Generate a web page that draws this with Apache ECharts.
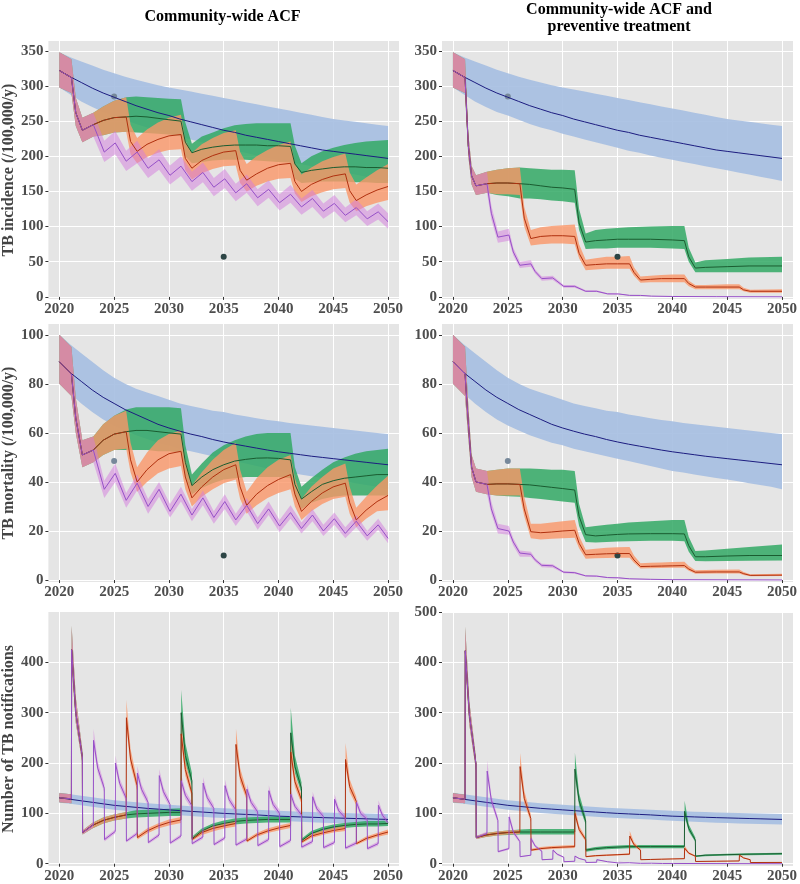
<!DOCTYPE html>
<html>
<head>
<meta charset="utf-8">
<script src="https://cdn.jsdelivr.net/npm/echarts@6/dist/echarts.min.js"></script>
<style>html,body{margin:0;padding:0;background:#fff;}#chart{width:800px;height:884px;}</style>
</head>
<body>
<div id="chart"></div>
<script>
// ---------------- DATA ----------------
// rows: [year, lower, median, upper]
const yearTicks = [2020, 2025, 2030, 2035, 2040, 2045, 2050];
const incTicks = [0, 50, 100, 150, 200, 250, 300, 350];
const mortTicks = [0, 20, 40, 60, 80, 100];
const notifTicksL = [0, 100, 200, 300, 400];
const notifTicksR = [0, 100, 200, 300, 400, 500];
const colTitles = ['Community-wide ACF', 'Community-wide ACF and\npreventive treatment'];
const rowNames = ['TB incidence (/100,000/y)', 'TB mortality (/100,000/y)', 'Number of TB notifications'];
const incTargets = [[2025, 285], [2035, 57]];
const mortTargets = [[2025, 48.5], [2035, 10]];

const incBlue = [
[2020,298,322,348],[2021,288,313,341],[2022,278,305,335],[2023,270,297,329],[2024,263,290,323],
[2025,258,284,318],[2026,252,278,313],[2027,246,272,309],[2028,241,267,305],[2029,237,262,301],
[2030,232,258,298],[2031,228,253,295],[2032,224,249,292],[2033,220,245,289],[2034,216,241,286],
[2035,212,237,283],[2036,208,234,280],[2037,205,230,277],[2038,201,227,274],[2039,198,224,271],
[2040,195,221,268],[2041,192,218,265],[2042,189,215,262],[2043,186,212,259],[2044,183,209,256],
[2045,180,207,253],[2046,177,205,251],[2047,174,203,249],[2048,171,201,247],[2049,168,199,245],
[2050,165,197,243]];

const incL_purple = [
[2020,298,322,348],[2021.1,290,312,338],[2021.5,243,262,283],[2022.1,220,237,255],[2023.1,228,245,262],
[2024.1,192,206,222],[2025.1,203,219,236],[2026.1,179,193,208],[2027.1,190,206,222],[2028.1,169,183,197],
[2029.1,181,195,210],[2030.1,160,173,187],[2031.1,172,186,200],[2032.1,151,164,178],[2033.1,163,177,191],
[2034.1,143,156,169],[2035.1,155,168,182],[2036.1,136,148,161],[2037.1,148,161,174],[2038.1,129,141,153],
[2039.1,141,153,166],[2040.1,123,134,146],[2041.1,134,146,159],[2042.1,117,128,140],[2043.1,128,140,152],
[2044.1,111,122,133],[2045.1,122,133,145],[2046.1,106,116,127],[2047.1,116,127,139],[2048.1,101,111,122],
[2049.1,110,121,133],[2050,97,107,119]];

const incL_orange = [
[2020,298,322,348],[2021.1,290,312,338],[2021.5,243,262,283],[2022.1,220,237,255],[2023.1,228,245,262],
[2024,230,251,271],[2025,234,255,279],[2026.1,235,256,284],[2026.5,203,221,245],[2027.1,190,207,226],
[2028,199,217,238],[2029,205,224,248],[2030,209,229,255],[2031.1,210,231,259],[2031.5,180,197,222],
[2032.1,167,183,205],[2033,176,194,217],[2034,182,201,226],[2035,186,206,233],[2036.1,187,208,237],
[2036.5,162,180,206],[2037.1,150,166,189],[2038,158,175,200],[2039,164,183,209],[2040,168,188,216],
[2041.1,169,190,221],[2041.5,147,164,190],[2042.1,135,150,174],[2043,143,160,184],[2044,149,167,193],
[2045,153,172,199],[2046.1,155,175,204],[2046.5,134,151,177],[2047.1,122,137,160],[2048,129,145,170],
[2049,134,152,180],[2050,138,157,189]];

const incL_green = [
[2020,298,322,348],[2021.1,290,312,338],[2021.5,243,262,283],[2022.1,220,237,255],[2023.1,228,245,262],
[2024,230,251,271],[2025,234,255,279],[2026.1,235,256,284],[2027,234,257,285],[2028,233,256,284],
[2029,232,254,283],[2030,231,252,282],[2031.1,229,250,281],[2031.5,200,220,248],[2032.1,190,205,218],
[2033,192,210,228],[2034,194,213,234],[2035,195,215,240],[2036,195,216,244],[2037,195,216,246],
[2038,194,216,247],[2039,193,215,247],[2040,192,215,247],[2041.1,191,214,247],[2041.5,168,189,215],
[2042.1,162,177,190],[2043,163,180,200],[2044,164,182,207],[2045,164,184,212],[2046,164,185,216],
[2047,163,185,219],[2048,163,184,221],[2049,162,184,222],[2050,162,183,223]];

const incR_purple = [
[2020,298,322,348],[2021.1,290,312,338],[2021.4,200,215,232],[2021.7,160,172,186],[2022.1,145,158,173],
[2023.1,148,161,178],[2023.5,110,119,130],[2024.1,77,85,93],[2025.1,80,88,97],[2025.5,59,64,70],
[2026.1,41,45,50],[2027.1,43,47,52],[2027.5,33,36,39],[2028.1,23,26,29],[2029.1,24,27,30],
[2030.1,13,15,17],[2031.1,13,15,17],[2032.1,7,8,9.5],[2033.1,7,8,9.5],[2034.1,3.5,4.3,5.2],
[2035.1,3.5,4.2,5],[2036.1,1.8,2.2,2.7],[2037.1,1.7,2.1,2.6],[2038.1,0.9,1.1,1.4],[2040,0.5,0.6,0.8],
[2044,0.2,0.3,0.4],[2050,0.1,0.1,0.2]];

const incR_orange = [
[2020,298,322,348],[2021.1,290,312,338],[2021.4,200,215,232],[2021.7,160,172,186],[2022.1,145,158,173],
[2023.1,148,161,178],[2024,146,162,181],[2025,146,162,183],[2026.1,145,161,184],[2026.5,100,112,128],
[2027.1,73,83,95],[2028,75,86,99],[2029,76,87,101],[2030,76,87,102],[2031.1,75,86,103],
[2031.5,55,62,75],[2032.1,38,45,53],[2033,39,46,55],[2034,40,47,57],[2035,40,47,57],
[2036.1,40,47,58],[2036.5,30,35,42],[2037.1,20,24,29],[2038,21,25,30],[2039,21,26,31],
[2040,21,26,32],[2041.1,21,26,32],[2041.5,15,19,23],[2042.1,11,14,17],[2043,11,14,17],
[2045,11,14,18],[2046.1,11,14,18],[2046.5,8,10,13],[2047.1,6,8,10],[2050,6,8,11]];

const incR_green = [
[2020,298,322,348],[2021.1,290,312,338],[2021.4,200,215,232],[2021.7,160,172,186],[2022.1,145,158,173],
[2023.1,148,161,178],[2024,145,162,181],[2025,143,162,183],[2026.1,140,161,184],[2027,140,160,183],
[2028,139,158,182],[2029,137,156,181],[2030,136,155,181],[2031.1,134,153,180],[2031.5,95,105,125],
[2032.1,68,78,90],[2033,69,80,95],[2034,69,81,97],[2035,70,82,98],[2036,70,82,99],
[2038,70,82,100],[2040,69,81,101],[2041.1,68,80,101],[2041.5,50,57,70],[2042.1,35,41,49],
[2043,35,42,52],[2045,35,43,54],[2047,35,44,56],[2050,35,44,57]];

const mortBlue = [
[2020,80,89,100],[2021,76,84.5,96],[2022,72,81,92.5],[2023,68.5,77.5,89],[2024,65.5,74.5,85.5],
[2025,63,72,82.5],[2026,61,69.5,80],[2027,59,67.5,78],[2028,57.5,65.5,76.5],[2029,56,63.5,75],
[2030,55,62,73.5],[2031,53.5,60.7,72],[2032,52.5,59.5,71],[2033,51.5,58.5,70],[2034,50.5,57.3,69],
[2035,49.5,56.3,68.5],[2036,48.5,55.4,67.5],[2037,47.5,54.6,66.8],[2038,46.5,53.8,66],[2039,45.5,53,65.3],
[2040,44.5,52.3,64.7],[2041,43.8,51.7,64],[2042,43,51.1,63.5],[2043,42.3,50.5,63],[2044,41.6,50,62.5],
[2045,41,49.5,62],[2046,40.3,49,61.5],[2047,39.5,48.5,61],[2048,38.8,48,60.5],[2049,38,47.5,60],
[2050,37,47,59.5]];

const mortL_purple = [
[2020,80,89,100],[2021.1,75,84,95],[2021.5,60,66,74],[2022.1,46,51,57],[2023.1,48,53,58.5],
[2024.1,33.5,37,40.5],[2025.1,40,43.5,47.5],[2026.1,29.5,32.5,35.5],[2027.1,36.5,39.5,43],[2028.1,27,30,33],
[2029.1,34,37,40],[2030.1,25.5,28,31],[2031.1,32,35,38],[2032.1,24,26.5,29],[2033.1,30.5,33.5,36.5],
[2034.1,23,25.5,28],[2035.1,29,32,35],[2036.1,22,24.5,27],[2037.1,28,30.5,33.5],[2038.1,20.5,23,25.5],
[2039.1,26.5,29,32],[2040.1,19.5,22,24.5],[2041.1,25,27.5,30.5],[2042.1,19,21,23.5],[2043.1,24,26.5,29],
[2044.1,18,20,22.5],[2045.1,22.5,25,27.5],[2046.1,17,19,21.5],[2047.1,21.5,24,26.5],[2048.1,16,18,20],
[2049.1,20.5,22.5,25],[2050,15,17,19.5]];

const mortL_orange = [
[2020,80,89,100],[2021.1,75,84,95],[2021.5,60,66,74],[2022.1,46,51,57],[2023.1,48,53,58.5],
[2024,51,57,63.5],[2025,53,59.5,67],[2026.1,53.5,60.5,69],[2026.5,44,49,56],[2027.1,36,40,46],
[2028,40,45,52],[2029,43.5,49,57],[2030,45.5,51.5,59.5],[2031.1,46.5,52.5,61],[2031.5,37,42,49],
[2032.1,30,33.5,38.5],[2033,34,38,44],[2034,37,42,49],[2035,39.5,45,53],[2036.1,41,47,56],
[2036.5,33,38,45],[2037.1,27,30.5,36],[2038,30.5,35,41.5],[2039,33.5,38.5,46],[2040,35.5,41,49],
[2041.1,37,43,51],[2041.5,30,35,41.5],[2042.1,24.5,28,33],[2043,28,32,38],[2044,31,35.5,42],
[2045,33,38,45.5],[2046.1,34,39.5,47.5],[2046.5,27,31.5,38],[2047.1,21.5,24.5,29.5],[2048,25,28.5,34],
[2049,28,32,38.5],[2050,28.5,34.5,42.5]];

const mortL_green = [
[2020,80,89,100],[2021.1,75,84,95],[2021.5,60,66,74],[2022.1,46,51,57],[2023.1,48,53,58.5],
[2024,51,57,63.5],[2025,53,59.5,67],[2026.1,53,60.5,69.5],[2027,53,61,70.5],[2028,53,61,70.5],
[2029,52.5,60.5,70.5],[2030,52.5,60,70.5],[2031.1,52,59.5,70],[2031.5,42,48,55],[2032.1,35,38.5,43],
[2033,37.5,42,47.5],[2034,39.5,45,52],[2035,41,47,55],[2036,41.5,48.5,57],[2037,42,49.2,58.5],
[2038,42,49.7,59.5],[2039,42,49.8,60],[2040,42,49.6,60],[2041.1,41.5,49,60],[2041.5,34,39,46],
[2042.1,29,33,38],[2043,31.5,36,41.5],[2044,33,39,45],[2045,34,40.5,48],[2046,34.5,41.5,50],
[2047,34.5,42,51.5],[2048,34.5,42.5,52.5],[2049,34.5,43,53],[2050,34.5,43,53.5]];

const mortR_purple = [
[2020,80,89,100],[2021.1,75,84,95],[2021.4,58,64,71],[2021.7,42,46,51],[2022.1,36,40,45.5],
[2023.1,35,39,44.5],[2023.5,27,29,32],[2024.1,19,21,23],[2025.1,18.5,20,22],[2025.5,14,15.5,17],
[2026.1,9.5,11,12],[2027.1,9.5,10.5,11.5],[2027.5,7.5,8.2,9],[2028.1,5.2,6,6.6],[2029.1,5,5.8,6.4],
[2030.1,2.8,3.2,3.6],[2031.1,2.6,3,3.4],[2032.1,1.4,1.7,2],[2033.1,1.3,1.6,1.9],[2034.1,0.8,1,1.2],
[2035.1,0.75,0.9,1.1],[2036.1,0.4,0.5,0.6],[2038,0.25,0.3,0.4],[2040,0.12,0.15,0.2],[2050,0.02,0.03,0.05]];

const mortR_orange = [
[2020,80,89,100],[2021.1,75,84,95],[2021.4,58,64,71],[2021.7,42,46,51],[2022.1,36,40,45.5],
[2023.1,35,39,44.5],[2024,34.5,39.2,45],[2025,34.5,39.2,45.5],[2026.1,34.5,39,45.5],[2026.5,26,29,34],
[2027.1,17,19.7,23],[2028,16.5,19.3,23],[2029,16.8,19.6,23.5],[2030,17,20,24],[2031.1,17.2,20.3,24.5],
[2031.5,13,15,18],[2032.1,8.7,10.3,12.3],[2033,8.9,10.5,12.8],[2034,9,10.7,13.2],[2035,9.1,10.8,13.4],
[2036.1,9.1,10.8,13.5],[2036.5,7,8.2,10],[2037.1,4.7,5.5,6.8],[2038,4.8,5.6,7],[2039,4.9,5.7,7.2],
[2040,5,5.8,7.4],[2041.1,5,5.9,7.5],[2041.5,3.8,4.5,5.7],[2042.1,2.6,3.2,4],[2044,2.7,3.3,4.2],
[2046.1,2.7,3.3,4.3],[2046.5,2.1,2.6,3.3],[2047.1,1.5,1.9,2.4],[2050,1.6,2,2.6]];

const mortR_green = [
[2020,80,89,100],[2021.1,75,84,95],[2021.4,58,64,71],[2021.7,42,46,51],[2022.1,36,40,45.5],
[2023.1,35,39,44.5],[2024,34.5,39.2,45],[2025,34.2,39.2,45.5],[2026.1,34,39,45.5],[2027,33.5,38.8,45.5],
[2028,33,38.3,45.3],[2029,32.5,37.8,45],[2030,32,37.3,45],[2031.1,31.5,36.7,44.5],[2031.5,22,26,31],
[2032.1,15.5,18.5,21.5],[2033,15.3,18,22],[2034,15.5,18.3,22.5],[2035,15.7,18.6,23],[2036,15.8,18.8,23.5],
[2038,16,18.9,24],[2040,16,18.9,24.5],[2041.1,15.8,18.8,24.5],[2041.5,11.5,14,17.5],[2042.1,7.8,9.5,11.8],
[2043,7.7,9.5,12],[2045,7.8,9.8,12.8],[2047,7.9,10,13.5],[2050,8,10,14.5]];

const notifBlue = [
[2020,121,131,141],[2021,119,128,138],[2022,116,125,135],[2023,113,122,132],[2024,110,119,129],
[2025,107,116,126],[2026,105,114,124],[2027,103,112,122],[2028,101,110,120],[2029,99.5,108.5,118.5],
[2030,98,107,117],[2031,96.5,105.5,115.5],[2032,95,104,114],[2033,93.5,102.7,112.5],[2034,92,101.3,111],
[2035,91,100,110],[2036,90,99,109],[2037,89,98,108],[2038,88,97,107],[2039,86.5,95.7,106],
[2040,85.5,94.5,105],[2041,84.5,93.8,104],[2042,83.5,93,103.5],[2043,82.5,92.3,103],[2044,81.5,91.6,102],
[2045,81,91,101.5],[2046,80,90.4,101],[2047,79.5,89.8,100.5],[2048,79,89.2,100],[2049,78.5,88.6,99.5],
[2050,78,88,99]];

const notifL_purple = [
[2020,122,131,140],[2021.1,120,129,138],[2021.12,395,425,472],[2021.5,280,300,330],[2022.1,200,212,225],
[2022.12,58,62,66],[2023.1,72,77,82],[2023.12,230,245,268],[2023.5,180,190,203],[2024.1,142,150,159],
[2024.12,44,48,52],[2025.1,60,64,68],[2025.12,188,200,215],[2025.5,152,160,170],[2026.1,123,130,138],
[2026.12,42,45,48],[2027.1,56,60,64],[2027.12,170,180,194],[2027.5,140,148,158],[2028.1,115,122,130],
[2028.12,39,42,45],[2029.1,53,57,61],[2029.12,165,175,188],[2029.5,135,143,152],[2030.1,111,118,125],
[2030.12,38,41,44],[2031.1,51,55,59],[2031.12,155,165,177],[2031.5,128,136,145],[2032.1,108,115,122],
[2032.12,37,40,43],[2033.1,49,53,57],[2033.12,150,160,172],[2033.5,124,131,140],[2034.1,103,110,117],
[2034.12,35,38,41],[2035.1,47,51,55],[2035.12,145,155,167],[2035.5,120,127,135],[2036.1,100,107,114],
[2036.12,34,37,40],[2037.1,45,49,53],[2037.12,138,148,159],[2037.5,115,122,130],[2038.1,97,103,110],
[2038.12,33,36,39],[2039.1,44,48,52],[2039.12,135,145,156],[2039.5,111,118,126],[2040.1,94,100,107],
[2040.12,31,34,37],[2041.1,42,46,50],[2041.12,129,138,149],[2041.5,107,114,121],[2042.1,91,97,103],
[2042.12,30,33,36],[2043.1,40,44,48],[2043.12,124,133,143],[2043.5,103,109,116],[2044.1,88,94,100],
[2044.12,29,32,35],[2045.1,38,42,46],[2045.12,119,128,138],[2045.5,99,105,112],[2046.1,85,91,97],
[2046.12,28,31,34],[2047.1,37,41,45],[2047.12,114,122,132],[2047.5,95,100,107],[2048.1,82,88,94],
[2048.12,27,30,33],[2049.1,36,40,44],[2049.12,108,116,126],[2049.5,90,96,103],[2050,77,82,88]];

const notifL_orange = [
[2020,122,131,140],[2021.1,120,129,138],[2021.12,395,425,472],[2021.5,280,300,330],[2022.1,200,212,225],
[2022.12,58,62,66],[2023,70,76,81],[2024,80,86,92],[2025,86,92,98],[2026.1,90,97,103],
[2026.12,270,290,325],[2026.5,195,208,228],[2027.1,145,155,166],[2027.12,48,52,56],[2028,60,65,70],
[2029,70,75,80],[2030,76,82,88],[2031.1,81,87,93],[2031.12,240,258,285],[2031.5,175,187,203],
[2032.1,132,140,150],[2032.12,45,48,52],[2033,57,62,66],[2034,64,70,75],[2035,70,75,80],
[2036.1,74,80,86],[2036.12,220,237,268],[2036.5,162,174,190],[2037.1,126,135,145],[2037.12,42,45,49],
[2038,53,57,61],[2039,61,65,70],[2040,66,71,76],[2041.1,71,76,81],[2041.12,206,222,248],
[2041.5,152,163,177],[2042.1,119,127,136],[2042.12,40,43,46],[2043,51,55,59],[2044,57,61,66],
[2045,62,66,71],[2046.1,65,70,75],[2046.12,192,207,240],[2046.5,142,153,168],[2047.1,116,124,133],
[2047.12,37,40,43],[2048,46,50,54],[2049,53,57,61],[2050,58,63,68]];

const notifL_green = [
[2020,122,131,140],[2021.1,120,129,138],[2021.12,395,425,472],[2021.5,280,300,330],[2022.1,200,212,225],
[2022.12,58,62,66],[2023,70,76,81],[2024,80,86,92],[2025,86,92,98],[2026.1,90,97,103],
[2027,92,99,106],[2028,93,100,107],[2029,94,101,108],[2030,95,102,109],[2031.1,95,102,110],
[2031.12,280,300,345],[2031.5,200,215,240],[2032.1,155,165,180],[2032.12,47,50,54],[2033,60,65,70],
[2034,69,75,80],[2035,74,80,86],[2036,78,84,90],[2037,80,86,92],[2038,81,87,93],
[2039,82,88,94],[2040,82,88,94],[2041.1,82,88,94],[2041.12,240,260,310],[2041.5,180,193,215],
[2042.1,140,150,162],[2042.12,43,46,50],[2043,56,60,65],[2044,63,68,73],[2045,68,73,78],
[2046,71,76,81],[2047,73,78,83],[2048,74,79,85],[2049,74,79,85],[2050,75,80,86]];

const notifR_purple = [
[2020,122,131,140],[2021.1,120,128,137],[2021.12,395,423,470],[2021.5,275,295,320],[2022.1,185,198,210],
[2022.12,49,52,55],[2023.1,56,60,64],[2023.12,172,184,205],[2023.5,118,126,136],[2024.1,80,86,92],
[2024.12,22,24,26],[2025.1,28,30,32],[2025.12,86,93,102],[2025.5,58,63,69],[2026.1,41,44,47],
[2026.12,13,14,15],[2027.1,16,17,18],[2027.12,46,50,55],[2027.5,32,35,38],[2028.1,23,25,27],
[2028.12,7,8,9],[2029.1,8.5,9,10],[2029.12,25,27,30],[2029.5,17,19,21],[2030.1,12,13,14],
[2030.12,3.6,4,4.4],[2031.1,4.5,5,5.5],[2031.12,14,15,17],[2031.5,9.5,10.5,11.5],[2032.1,6.5,7,7.7],
[2032.12,2.2,2.5,2.8],[2033.1,2.7,3,3.3],[2033.12,7.3,8,8.8],[2034.1,3.6,4,4.4],[2034.12,1.2,1.3,1.5],
[2035.1,1.4,1.5,1.7],[2035.12,3.6,4,4.5],[2036.1,1.8,2,2.2],[2036.12,0.6,0.7,0.8],[2037.1,0.7,0.8,0.9],
[2037.12,1.8,2,2.2],[2038.1,0.9,1,1.1],[2039.1,0.4,0.5,0.6],[2039.12,0.9,1,1.1],[2040.1,0.4,0.5,0.6],
[2050,0.05,0.05,0.1]];

const notifR_orange = [
[2020,122,131,140],[2021.1,120,128,137],[2021.12,395,423,470],[2021.5,275,295,320],[2022.1,185,198,210],
[2022.12,49,52,55],[2023,53,57,61],[2024,56,60,64],[2025,58,62,66],[2026.1,59,63,67],
[2026.12,178,193,220],[2026.5,120,130,145],[2027.1,83,90,98],[2027.12,25,27,30],[2028,28,30,33],
[2029,29.5,32,35],[2030,30.5,33,36],[2031.1,31.5,34,37],[2031.12,92,100,112],[2031.5,63,68,75],
[2032.1,44,48,52],[2032.12,13,14,15.5],[2033,14.5,16,17.5],[2034,15.5,17,18.5],[2035,16.5,18,19.5],
[2036.1,17.5,19,21],[2036.12,51,55,65],[2036.5,35,38,43],[2037.1,25,27,30],[2037.12,7.3,8,8.8],
[2038,7.8,8.5,9.3],[2039,8.2,9,9.8],[2040,8.7,9.5,10.4],[2041.1,9.2,10,11],[2041.12,28,31,36],
[2041.5,19,21,23.5],[2042.1,14,15,16.5],[2042.12,4.1,4.5,5],[2044,4.5,5,5.5],[2046.1,5,5.5,6],
[2046.12,15.5,17,20],[2046.5,10.5,11.5,13],[2047.1,7.3,8,8.8],[2047.12,2.2,2.4,2.7],[2050,2.3,2.6,2.9]];

const notifR_green = [
[2020,122,131,140],[2021.1,120,128,137],[2021.12,395,423,470],[2021.5,275,295,320],[2022.1,185,198,210],
[2022.12,49,52,55],[2023,53,57,61],[2024,56,60,64],[2025,57,62,66],[2026.1,58,63,68],
[2027,58,63,69],[2028,58,63,69],[2029,58,63,69],[2030,58,63,69],[2031.1,58,63,69],
[2031.12,172,188,220],[2031.5,115,125,140],[2032.1,78,85,93],[2032.12,24,27,30],[2033,27,30,33],
[2034,29,32,35],[2035,30,33,36],[2036,31,34,37],[2038,31,34,37],[2040,31,34,37],
[2041.1,31,34,37],[2041.12,95,104,125],[2041.5,64,70,78],[2042.1,43,47,52],[2042.12,13.5,15,16.5],
[2043,15,17,18.5],[2045,16.5,18,20],[2047,17,19,21],[2050,18,20,22]];

// ---------------- LAYOUT / STYLE ----------------
const FONT = '"Liberation Serif","Times New Roman",serif';
const cols = [{left: 46, width: 353}, {left: 442, width: 354}];
const rows = [
  {top: 41, height: 258, min: -3, max: 364},
  {top: 324, height: 258, min: -0.8, max: 104.4},
  {top: 612, height: 257, min: -4.5, max: 500}
];
const bandColor = {
  blue: 'rgba(165,190,225,0.9)',
  green: 'rgba(50,169,101,0.85)',
  orange: 'rgba(250,150,104,0.8)',
  purple: 'rgba(211,123,221,0.5)'
};
const lineColor = {blue: '#1c1c80', green: '#1a5c30', orange: '#b0300e', purple: '#9650c8'};
const targetColors = ['#76889a', '#2d4545'];

const panels = [
  {r: 0, c: 0, ticks: incTicks, targets: incTargets, s: {blue: incBlue, green: incL_green, orange: incL_orange, purple: incL_purple}},
  {r: 0, c: 1, ticks: incTicks, targets: incTargets, s: {blue: incBlue, green: incR_green, orange: incR_orange, purple: incR_purple}},
  {r: 1, c: 0, ticks: mortTicks, targets: mortTargets, s: {blue: mortBlue, green: mortL_green, orange: mortL_orange, purple: mortL_purple}},
  {r: 1, c: 1, ticks: mortTicks, targets: mortTargets, s: {blue: mortBlue, green: mortR_green, orange: mortR_orange, purple: mortR_purple}},
  {r: 2, c: 0, ticks: notifTicksL, targets: null, s: {blue: notifBlue, green: notifL_green, orange: notifL_orange, purple: notifL_purple}},
  {r: 2, c: 1, ticks: notifTicksR, targets: null, s: {blue: notifBlue, green: notifR_green, orange: notifR_orange, purple: notifR_purple}}
];

const grids = [], xAxes = [], yAxes = [], series = [];
const labelStyle = {fontFamily: FONT, fontWeight: 'bold', fontSize: 15, color: '#4d4d4d'};
const plain = v => String(v);

panels.forEach((p, i) => {
  const col = cols[p.c], row = rows[p.r];
  grids.push({left: col.left, width: col.width, top: row.top, height: row.height,
    show: true, backgroundColor: '#e5e5e5', borderWidth: 0, containLabel: false});
  xAxes.push({type: 'value', gridIndex: i, min: 2019, max: 2051,
    axisLine: {show: false},
    axisTick: {show: true, length: 3, lineStyle: {color: '#333'}, customValues: yearTicks},
    axisLabel: Object.assign({customValues: yearTicks, margin: 3, formatter: plain}, labelStyle),
    splitLine: {show: true, lineStyle: {color: '#ffffff', width: 1}}
  });
  const ya = {type: 'value', gridIndex: i, min: row.min, max: row.max,
    axisLine: {show: false},
    axisTick: {show: true, length: 3, lineStyle: {color: '#333'}, customValues: p.ticks},
    axisLabel: Object.assign({customValues: p.ticks, margin: 5, formatter: plain}, labelStyle),
    splitLine: {show: true, lineStyle: {color: '#ffffff', width: 1}}
  };
  if (p.c === 0) {
    ya.name = rowNames[p.r];
    ya.nameLocation = 'middle';
    ya.nameGap = 28;
    ya.nameRotate = 90;
    ya.nameTextStyle = {fontFamily: FONT, fontWeight: 'bold', fontSize: 16, color: '#444'};
  }
  yAxes.push(ya);

  ['blue', 'green', 'orange', 'purple'].forEach(k => {
    const data = p.s[k];
    series.push({
      type: 'custom', xAxisIndex: i, yAxisIndex: i, silent: true, clip: true,
      encode: {x: 0, y: 2},
      data: data,
      renderItem: function (params, api) {
        if (params.dataIndex !== 0) return null;
        const pts = [];
        for (let j = 0; j < data.length; j++) pts.push(api.coord([data[j][0], data[j][3]]));
        for (let j = data.length - 1; j >= 0; j--) pts.push(api.coord([data[j][0], data[j][1]]));
        return {type: 'polygon', shape: {points: pts}, style: {fill: bandColor[k]}};
      }
    });
    series.push({
      type: 'line', xAxisIndex: i, yAxisIndex: i, silent: true,
      data: data.map(d => [d[0], d[2]]),
      showSymbol: false, symbol: 'none',
      lineStyle: {color: lineColor[k], width: 1}
    });
  });
  if (p.targets) {
    p.targets.forEach((t, j) => {
      series.push({type: 'scatter', xAxisIndex: i, yAxisIndex: i, silent: true,
        data: [t], symbolSize: 6, itemStyle: {color: targetColors[j], opacity: 1}});
    });
  }
});

const chart = echarts.init(document.getElementById('chart'), null, {renderer: 'canvas'});
chart.setOption({
  animation: false,
  backgroundColor: '#ffffff',
  grid: grids,
  xAxis: xAxes,
  yAxis: yAxes,
  series: series,
  graphic: [
    {type: 'text', x: cols[0].left + cols[0].width / 2, y: 17,
      style: {text: colTitles[0], textAlign: 'center', textVerticalAlign: 'middle',
        font: 'bold 16px ' + FONT, fill: '#000'}},
    {type: 'text', x: cols[1].left + cols[1].width / 2, y: 18,
      style: {text: colTitles[1], textAlign: 'center', textVerticalAlign: 'middle',
        font: 'bold 16px ' + FONT, lineHeight: 17, fill: '#000'}}
  ]
});
</script>
</body>
</html>
